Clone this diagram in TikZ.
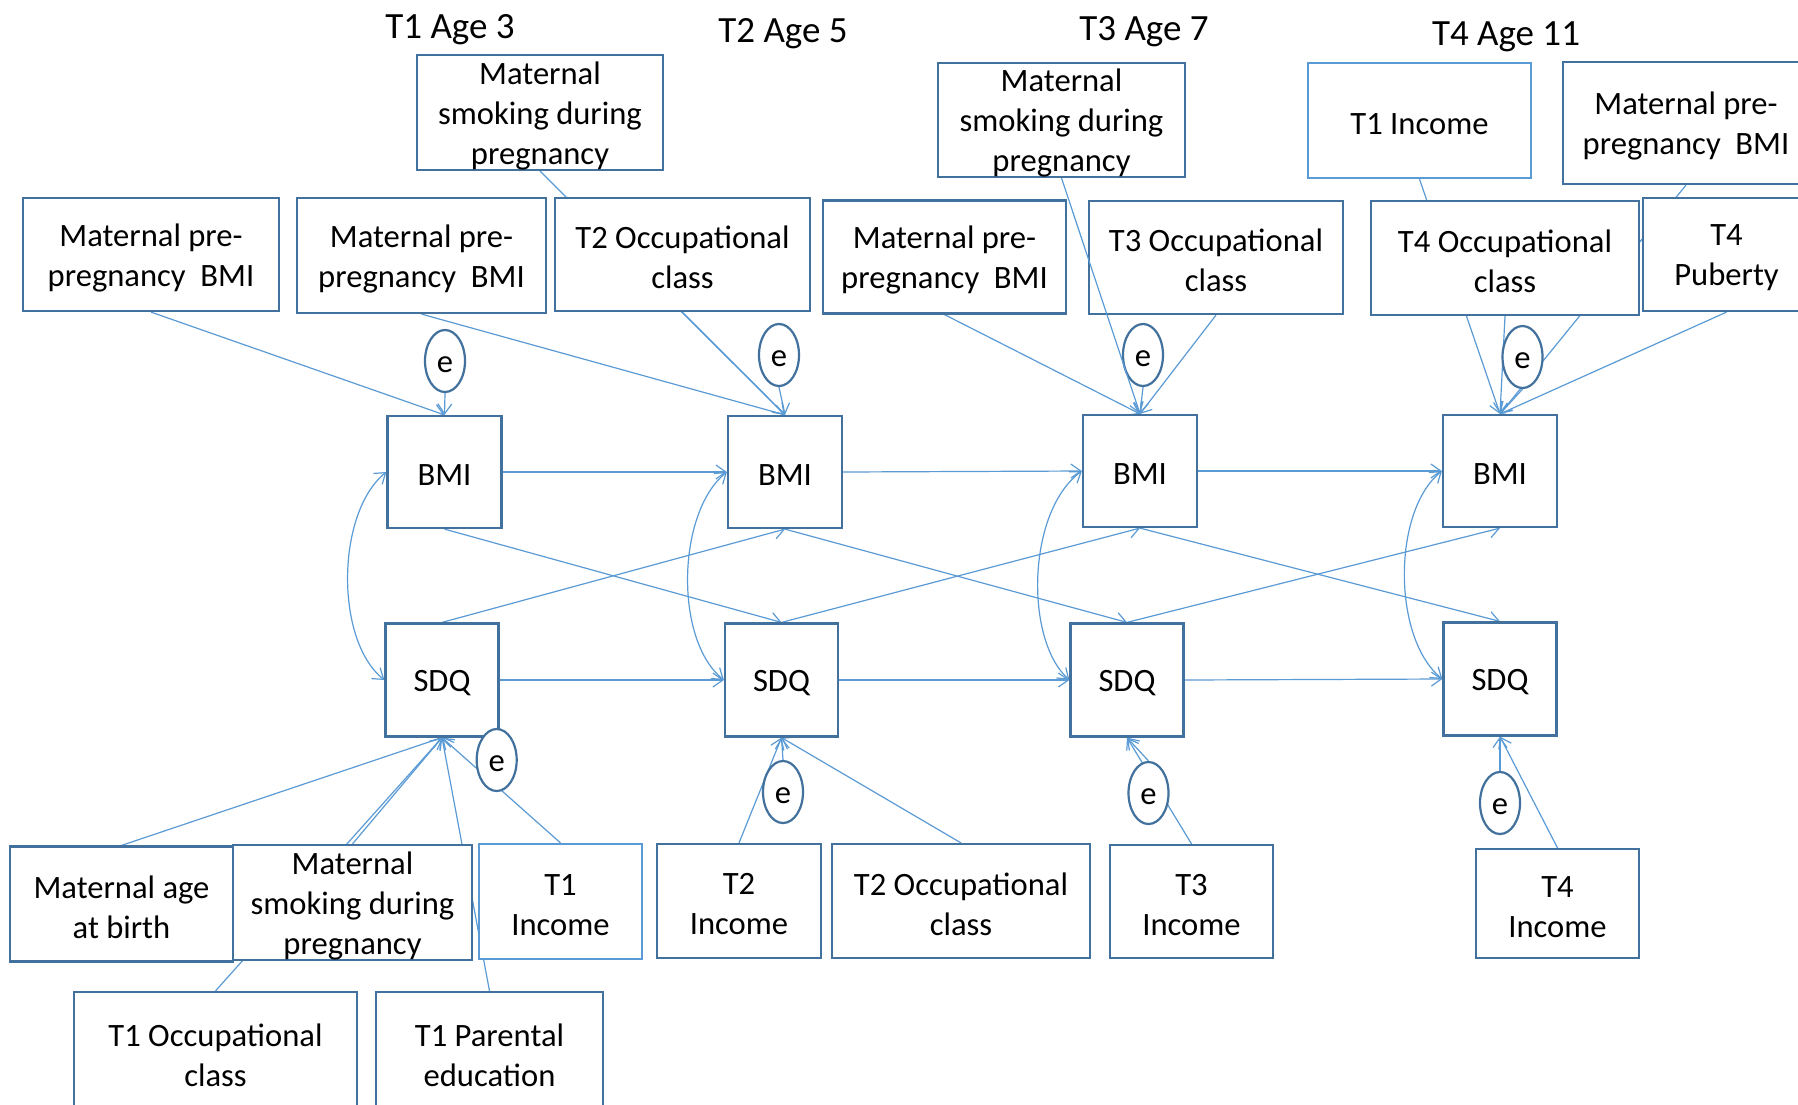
\documentclass[tikz,border=0pt]{standalone}
\usepackage{fontspec}
\setmainfont{Carlito}
\usetikzlibrary{arrows.meta,shapes.geometric}
\definecolor{boxblue}{RGB}{65,113,156}
\definecolor{lineblue}{RGB}{91,155,213}
\pgfdeclarelayer{paper}
\pgfdeclarelayer{back}
\pgfsetlayers{paper,back,main}

\begin{document}
\begin{tikzpicture}[x=0.5pt,y=-0.5pt,
  % box outline; its text is set as a centred label sitting a little low
  tx/.style={align=center, inner sep=0pt, yshift=-1.6pt,
    font=\fontsize{16.3}{20}\selectfont},
  box/.style={draw=boxblue, line width=1.1pt, fill=white, inner sep=0pt,
    label={[tx]center:#1}},
  lbox/.style={box=#1, draw=lineblue},
  sz/.style 2 args={minimum width=#1*0.5pt, minimum height=#2*0.5pt},
  err/.style={ellipse, draw=boxblue, line width=1.1pt, fill=white, inner sep=0pt,
    minimum width=20pt, minimum height=31pt, label={[tx]center:e}},
  arr/.style={draw=lineblue, line width=0.6pt, -{Straight Barb[length=5pt,width=7pt]}},
  dbl/.style={draw=lineblue, line width=0.6pt,
    {Straight Barb[length=5pt,width=7pt]}-{Straight Barb[length=5pt,width=7pt]}},
  title/.style={font=\fontsize{18.5}{22}\selectfont, inner sep=0pt}]

\useasboundingbox (0,0) rectangle (1798,1104);
\clip (0,0) rectangle (1798,1104);
\begin{pgfonlayer}{paper}
  \fill[white] (0,0) rectangle (1798,1104);
\end{pgfonlayer}

% wave headings
\node[title] (h1) at (450,30) {T1 Age 3};
\node[title] (h2) at (783,34) {T2 Age 5};
\node[title] (h3) at (1144,32) {T3 Age 7};
\node[title] (h4) at (1506,37) {T4 Age 11};

% predictors of BMI
\node[box={Maternal\\smoking during\\pregnancy}, sz={246}{115}] (smk1) at (540,112.5) {};
\node[box={Maternal pre-\\pregnancy~ BMI}, sz={256}{113}] (mpb1) at (151,254.5) {};
\node[box={Maternal pre-\\pregnancy~ BMI}, sz={249}{115}] (mpb2) at (421.5,255.5) {};
\node[box={T2 Occupational\\class}, sz={255}{113}] (occ2) at (682.5,254.5) {};
\node[box={Maternal pre-\\pregnancy~ BMI}, sz={243}{113}] (mpb3) at (944.5,257) {};
\node[box={Maternal\\smoking during\\pregnancy}, sz={247}{114}] (smk3) at (1061.5,120) {};
\node[box={T3 Occupational\\class}, sz={254}{113}] (occ3) at (1216,257.5) {};
\node[lbox={T1 Income}, sz={223}{115}] (inc1t) at (1419.5,120.5) {};
\node[box={Maternal pre-\\pregnancy~ BMI}, sz={246}{122}] (mpb4) at (1686,123) {};
\node[box={T4 Occupational\\class}, sz={268}{114}] (occ4) at (1505,258) {};
\node[box={T4\\Puberty}, sz={167}{113}] (pub4) at (1726.5,254.5) {};

% outcomes
\node[box=BMI, sz={114}{112}] (bmi1) at (444.5,472) {};
\node[box=BMI, sz={114}{112}] (bmi2) at (785,472) {};
\node[box=BMI, sz={114}{112}] (bmi3) at (1140,471) {};
\node[box=BMI, sz={114}{112}] (bmi4) at (1500,471) {};
\node[box=SDQ, sz={113}{113}] (sdq1) at (442,680) {};
\node[box=SDQ, sz={113}{113}] (sdq2) at (781.5,680) {};
\node[box=SDQ, sz={113}{113}] (sdq3) at (1127,680) {};
\node[box=SDQ, sz={113}{113}] (sdq4) at (1500,679) {};

% residual terms
\node[err] (e1) at (445,361) {};
\node[err] (e2) at (779,355) {};
\node[err] (e3) at (1143,355) {};
\node[err] (e4) at (1522.5,357) {};
\node[err] (f1) at (496.7,760) {};
\node[err] (f2) at (783,792) {};
\node[err] (f3) at (1148.5,793) {};
\node[err] (f4) at (1500,803) {};

% predictors of SDQ
\node[box={Maternal age\\at birth}, sz={223}{115}] (age) at (121.5,904) {};
\node[box={Maternal\\smoking during\\pregnancy}, sz={239}{115}] (smkB) at (352.5,902.5) {};
\node[lbox={T1\\Income}, sz={163}{115}] (inc1) at (560.5,901.5) {};
\node[box={T2\\Income}, sz={164}{114}] (inc2) at (739,901) {};
\node[box={T2 Occupational\\class}, sz={258}{114}] (occ2b) at (961,901) {};
\node[box={T3\\Income}, sz={163}{113}] (inc3) at (1191.5,901.5) {};
\node[box={T4\\Income}, sz={163}{109}] (inc4) at (1557.5,903.5) {};
\node[box={T1 Occupational\\class}, sz={283}{120}] (occ1) at (215.5,1052) {};
\node[box={T1 Parental\\education}, sz={227}{120}] (edu1) at (489.5,1052) {};

\begin{pgfonlayer}{back}
  % paths into BMI
  \draw[arr] (mpb1.south) -- (bmi1.north);
  \draw[arr] (e1.south) -- (bmi1.north);
  \draw[arr] (mpb2.south) -- (bmi2.north);
  \draw[arr] (occ2.south) -- (bmi2.north);
  \draw[arr] (smk1.south) -- (bmi2.north);
  \draw[arr] (e2.south) -- (bmi2.north);
  \draw[arr] (mpb3.south) -- (bmi3.north);
  \draw[arr] (occ3.south) -- (bmi3.north);
  \draw[arr] (e3.south) -- (bmi3.north);
  \draw[arr] (inc1t.south) -- (bmi4.north);
  \draw[arr] (occ4.south) -- (bmi4.north);
  \draw[arr] (mpb4.south) -- (bmi4.north);
  \draw[arr] (pub4.south) -- (bmi4.north);
  \draw[arr] (e4.south) -- (bmi4.north);

  % stability paths
  \draw[arr] (bmi1.east) -- (bmi2.west);
  \draw[arr] (bmi2.east) -- (bmi3.west);
  \draw[arr] (bmi3.east) -- (bmi4.west);
  \draw[arr] (sdq1.east) -- (sdq2.west);
  \draw[arr] (sdq2.east) -- (sdq3.west);
  \draw[arr] (sdq3.east) -- (sdq4.west);

  % cross-lagged paths
  \draw[arr] (bmi1.south) -- (sdq2.north);
  \draw[arr] (bmi2.south) -- (sdq3.north);
  \draw[arr] (bmi3.south) -- (sdq4.north);
  \draw[arr] (sdq1.north) -- (bmi2.south);
  \draw[arr] (sdq2.north) -- (bmi3.south);
  \draw[arr] (sdq3.north) -- (bmi4.south);

  % within-wave covariances
  \draw[dbl] (bmi1.west) .. controls +(-50,40) and +(-50,-40) .. (sdq1.west);
  \draw[dbl] (bmi2.west) .. controls +(-50,40) and +(-50,-40) .. (sdq2.west);
  \draw[dbl] (bmi3.west) .. controls +(-55,40) and +(-45,-40) .. (sdq3.west);
  \draw[dbl] (bmi4.west) .. controls +(-50,40) and +(-50,-40) .. (sdq4.west);

  % paths into SDQ
  \draw[arr] (age.north) -- (sdq1.south);
  \draw[arr] (smkB.north) -- (sdq1.south);
  \draw[arr] (occ1.north) -- (sdq1.south);
  \draw[arr] (edu1.north) -- (sdq1.south);
  \draw[arr] (inc1.north) -- (sdq1.south);
  \draw[arr] (f1.north) -- (sdq1.south);
  \draw[arr] (inc2.north) -- (sdq2.south);
  \draw[arr] (occ2b.north) -- (sdq2.south);
  \draw[arr] (f2.north) -- (sdq2.south);
  \draw[arr] (inc3.north) -- (sdq3.south);
  \draw[arr] (f3.north) -- (sdq3.south);
  \draw[arr] (inc4.north) -- (sdq4.south);
  \draw[arr] (f4.north) -- (sdq4.south);
\end{pgfonlayer}

% this path runs across the T3 occupational class box
\draw[arr] (smk3.south) -- (bmi3.north);

\end{tikzpicture}
\end{document}
